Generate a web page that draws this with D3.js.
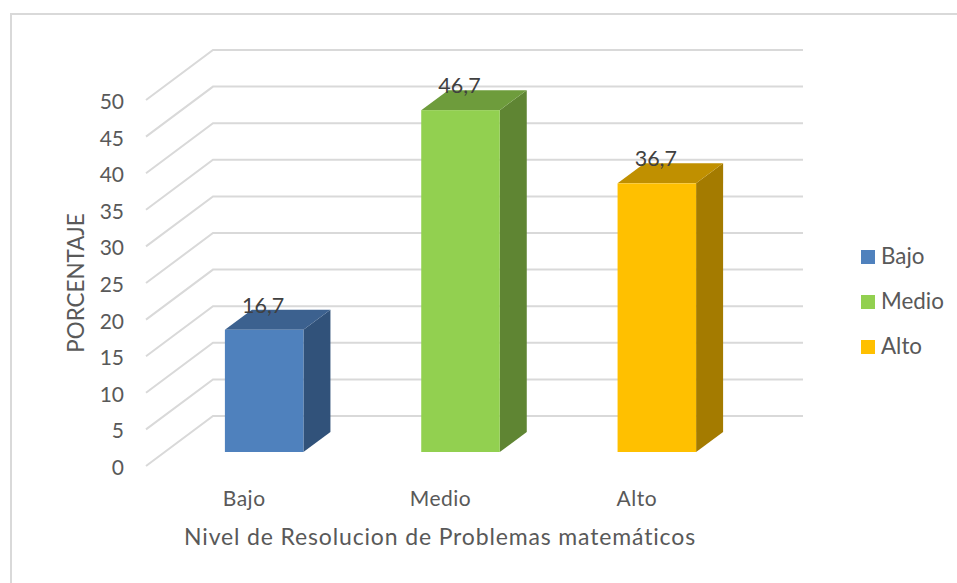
<!DOCTYPE html>
<html>
<head>
<meta charset="utf-8">
<script src="https://cdnjs.cloudflare.com/ajax/libs/d3/7.8.5/d3.min.js"></script>
<style>
  html, body { margin: 0; padding: 0; background: #fff; }
  text { font-family: Lato, "Open Sans", sans-serif; fill: #595959; }
</style>
</head>
<body>
<div id="chart"></div>
<script>
// data
let categories = ["Bajo", "Medio", "Alto"];
let values = [16.7, 46.7, 36.7];
let valueLabels = ["16,7", "46,7", "36,7"];
let frontColors = ["#4f81bd", "#92d050", "#ffc000"];
let topColors = ["#3c618f", "#6e9c3c", "#c09000"];
let sideColors = ["#31527a", "#5f8533", "#a47b00"];
let yTicks = [0, 5, 10, 15, 20, 25, 30, 35, 40, 45, 50];
let xTitle = "Nivel de Resolucion de Problemas matemáticos";
let yTitle = "PORCENTAJE";

let width = 957, height = 583;
let depthX = 27, depthY = 20;

let svg = d3.select("#chart").append("svg")
    .attr("width", width)
    .attr("height", height)
    .style("display", "block");

// chart frame
svg.append("rect")
    .attr("x", 11).attr("y", 14)
    .attr("width", 960).attr("height", 600)
    .attr("fill", "none")
    .attr("stroke", "#d9d9d9")
    .attr("stroke-width", 2);

// three scales for the same axis: front edge, back wall, and the plane of the bars
let yEdge = d3.scaleLinear().domain([0, 50]).range([466, 100]);
let yBack = d3.scaleLinear().domain([0, 50]).range([416, 50]);
let yBar = d3.scaleLinear().domain([0, 50]).range([452, 86]);

let x = d3.scaleBand()
    .domain(categories)
    .range([166, 755])
    .paddingInner(0.6)
    .paddingOuter(0.3);

// gridlines
let grid = svg.append("g").attr("fill", "none")
    .attr("stroke", "#d9d9d9")
    .attr("stroke-width", 2);

grid.selectAll("polyline")
    .data(yTicks)
    .enter()
    .append("polyline")
    .attr("points", function (d) {
        return [[146, yEdge(d)], [213, yBack(d)], [803, yBack(d)]].join(" ");
    });

// y tick labels
svg.append("g").selectAll("text")
    .data(yTicks)
    .enter()
    .append("text")
    .attr("x", 124)
    .attr("y", function (d) { return yEdge(d) + 9; })
    .attr("text-anchor", "end")
    .attr("font-size", 21)
    .text(function (d) { return d; });

// bars
let bars = svg.append("g").selectAll("g")
    .data(categories)
    .enter()
    .append("g");

bars.append("polygon")
    .attr("fill", function (d, i) { return sideColors[i]; })
    .attr("points", function (d, i) {
        let r = x(d) + x.bandwidth(), t = yBar(values[i]), b = yBar(0);
        return [[r, t], [r + depthX, t - depthY], [r + depthX, b - depthY], [r, b]].join(" ");
    });

bars.append("polygon")
    .attr("fill", function (d, i) { return topColors[i]; })
    .attr("points", function (d, i) {
        let l = x(d), r = l + x.bandwidth(), t = yBar(values[i]);
        return [[l, t], [r, t], [r + depthX, t - depthY], [l + depthX, t - depthY]].join(" ");
    });

bars.append("rect")
    .attr("x", function (d) { return x(d); })
    .attr("y", function (d, i) { return yBar(values[i]); })
    .attr("width", x.bandwidth())
    .attr("height", function (d, i) { return yBar(0) - yBar(values[i]); })
    .attr("fill", function (d, i) { return frontColors[i]; });

// value labels
bars.append("text")
    .attr("x", function (d) { return x(d) + x.bandwidth() / 2 - 1; })
    .attr("y", function (d, i) { return yBar(values[i]) - 17; })
    .attr("text-anchor", "middle")
    .attr("font-size", 21.5)
    .style("fill", "#404040")
    .text(function (d, i) { return valueLabels[i]; });

// category labels
svg.append("g").selectAll("text")
    .data(categories)
    .enter()
    .append("text")
    .attr("x", function (d) { return x(d) + x.bandwidth() / 2 - 20; })
    .attr("y", 506)
    .attr("text-anchor", "middle")
    .attr("font-size", 21)
    .attr("letter-spacing", 0.5)
    .text(function (d) { return d; });

// axis titles
svg.append("text")
    .attr("x", 440).attr("y", 545)
    .attr("text-anchor", "middle")
    .attr("font-size", 23)
    .attr("letter-spacing", 0.85)
    .text(xTitle);

svg.append("text")
    .attr("transform", "translate(84,283) rotate(-90)")
    .attr("text-anchor", "middle")
    .attr("font-size", 22.4)
    .text(yTitle);

// legend
let legend = svg.append("g").selectAll("g")
    .data(categories)
    .enter()
    .append("g")
    .attr("transform", function (d, i) { return "translate(861," + (250 + i * 45) + ")"; });

legend.append("rect")
    .attr("width", 14).attr("height", 14)
    .attr("fill", function (d, i) { return frontColors[i]; });

legend.append("text")
    .attr("x", 20).attr("y", 14)
    .attr("font-size", 22.4)
    .text(function (d) { return d; });
</script>
</body>
</html>
